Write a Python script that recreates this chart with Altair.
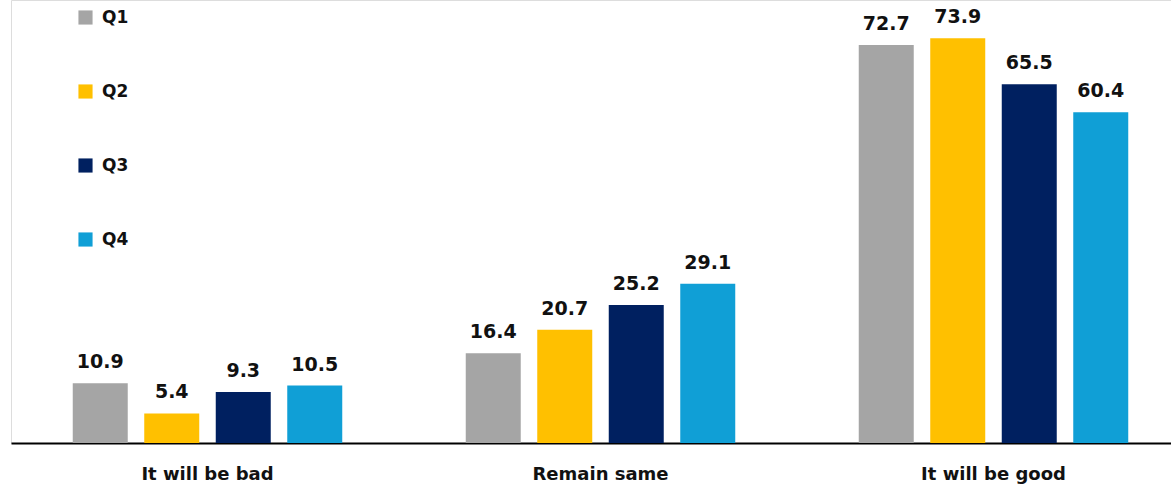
import altair as alt
import pandas as pd

categories = ["It will be bad", "Remain same", "It will be good"]
quarters = ["Q1", "Q2", "Q3", "Q4"]
q1 = [10.9, 16.4, 72.7]
q2 = [5.4, 20.7, 73.9]
q3 = [9.3, 25.2, 65.5]
q4 = [10.5, 29.1, 60.4]
colors = ["#A5A5A5", "#FFC000", "#002060", "#109FD6"]

rows = []
for qname, vals in zip(quarters, [q1, q2, q3, q4]):
    for c, v in zip(categories, vals):
        rows.append({"category": c, "quarter": qname, "value": v})
df = pd.DataFrame(rows)

FONT = "DejaVu Sans"

x = alt.X(
    "category:N",
    sort=categories,
    title=None,
    scale=alt.Scale(range=[0, 1179], paddingInner=0, paddingOuter=0),
    axis=alt.Axis(
        labelAngle=0,
        labelFont=FONT,
        labelFontSize=18,
        labelFontWeight="bold",
        labelColor="#111111",
        labelPadding=22,
        ticks=False,
        domainColor="#000000",
        domainWidth=2,
        grid=False,
    ),
)
xoff = alt.XOffset(
    "quarter:N",
    sort=quarters,
    scale=alt.Scale(paddingInner=0.2308, paddingOuter=0.8636),
)
y = alt.Y(
    "value:Q",
    scale=alt.Scale(domain=[0, 80.9], nice=False, zero=True),
    axis=None,
)

bars = alt.Chart(df).mark_bar().encode(
    x=x,
    xOffset=xoff,
    y=y,
    color=alt.Color(
        "quarter:N",
        sort=quarters,
        scale=alt.Scale(domain=quarters, range=colors),
        legend=alt.Legend(
            title=None,
            orient="none",
            legendX=66,
            legendY=9,
            direction="vertical",
            symbolType="square",
            symbolSize=200,
            symbolStrokeWidth=0,
            labelFont=FONT,
            labelFontSize=17,
            labelFontWeight="bold",
            labelColor="#111111",
            labelOffset=8,
            rowPadding=56,
            padding=0,
        ),
    ),
)

labels = alt.Chart(df).mark_text(
    font=FONT,
    fontSize=19,
    fontWeight="bold",
    color="#111111",
    baseline="bottom",
    dy=-11,
).encode(
    x=x,
    xOffset=xoff,
    y=y,
    text=alt.Text("value:Q", format=".1f"),
)

chart = alt.layer(bars, labels).properties(
    width=1160,
    height=443,
    autosize=alt.AutoSizeParams(type="none"),
    padding={"left": 11, "top": 0, "right": 0, "bottom": 42},
).configure_view(stroke=None).configure(background="white")

chart.save("out.html", embed_options={"renderer": "svg", "actions": False})
